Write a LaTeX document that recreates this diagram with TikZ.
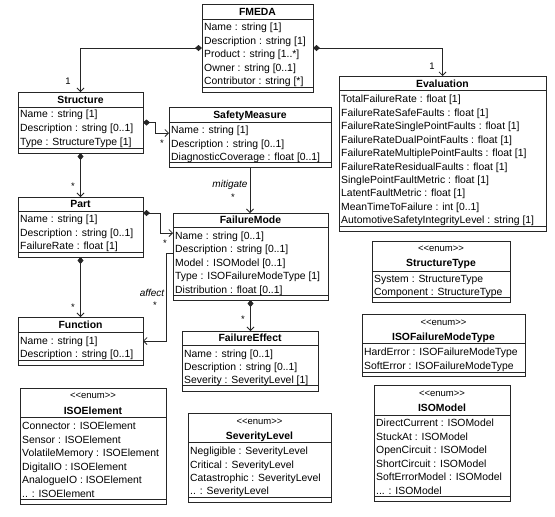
\documentclass[tikz,border=0pt]{standalone}
\usepackage{fontspec}
\setmainfont{Liberation Sans}
\usetikzlibrary{arrows.meta,fit}
\newcommand\umlbox[7]{%
  \node[box, fit={(#2,#3) (#4,#5)}] (#1) {};
  \draw[sep] (#2,#6) -- (#4,#6) (#2,#7) -- (#4,#7);
}
\newcommand\umlrows[5]{%
  \foreach \rowtext [count=\i] in {#5} {\node[attr] (#1-r\i) at (#2,{#3+#4*(\i-1)}) {\rowtext};}
}
\newcommand\enumtag{<\kern0pt<enum>\kern0pt>}
\begin{document}
\begin{tikzpicture}[x=1pt,y=-1pt,
  box/.style={draw=black!85, line width=0.8pt, inner sep=0pt, outer sep=0pt},
  sep/.style={draw=black!85, line width=0.8pt},
  attr/.style={anchor=west, inner sep=0pt, text height=7.5pt, text depth=0pt, font=\fontsize{10.4}{12}\selectfont},
  ttl/.style={inner sep=0pt, text height=7.5pt, text depth=0pt, font=\fontsize{10.4}{12}\selectfont\bfseries},
  stereo/.style={inner sep=0pt, font=\fontsize{9.5}{11}\selectfont},
  lbl/.style={inner sep=0pt, font=\fontsize{10}{12}\selectfont\itshape},
  mult/.style={inner sep=0pt, font=\fontsize{9.5}{11}\selectfont},
  comp/.style={draw=black!85, line width=0.8pt, {Diamond[length=7pt,width=6pt]}-{Straight Barb[length=3.5pt,width=7pt]}},
  assoc/.style={draw=black!85, line width=0.8pt, -{Straight Barb[length=3.5pt,width=7pt]}},
]
\useasboundingbox[fill=white] (0,0) rectangle (555,517);

% FMEDA
\umlbox{fmeda}{202}{4}{313}{92}{19}{87}
\node[ttl] (fmeda-t) at (257.5,12) {FMEDA};
\umlrows{fmeda}{204}{26.7}{13.55}{Name : string [1], Description : string [1], Product : string [1..*], Owner : string [0..1], Contributor : string [*]}

% Structure
\umlbox{structure}{18}{92}{143}{153}{107}{148}
\node[ttl] (structure-t) at (80.5,100) {Structure};
\umlrows{structure}{20}{114}{13.7}{Name : string [1], Description : string [0..1], Type : StructureType [1]}

% SafetyMeasure
\umlbox{safety}{169}{107}{331}{167}{122}{162}
\node[ttl] (safety-t) at (250,114.5) {SafetyMeasure};
\umlrows{safety}{171}{130}{13.5}{Name : string [1], Description : string [0..1], DiagnosticCoverage : float [0..1]}

% Part
\umlbox{part}{18}{197}{143}{257}{211}{252}
\node[ttl] (part-t) at (80.5,204) {Part};
\umlrows{part}{20}{219}{13.5}{Name : string [1], Description : string [0..1], FailureRate : float [1]}

% FailureMode
\umlbox{failmode}{173}{213}{328}{300}{227}{295}
\node[ttl] (failmode-t) at (250.5,220) {FailureMode};
\umlrows{failmode}{175}{235.3}{13.5}{Name : string [0..1], Description : string [0..1], Model : ISOModel [0..1], Type : ISOFailureModeType [1], Distribution : float [0..1]}

% Function
\umlbox{function}{18}{317}{143}{365}{332}{360}
\node[ttl] (function-t) at (80.5,325) {Function};
\umlrows{function}{20}{340.5}{13.2}{Name : string [1], Description : string [0..1]}

% FailureEffect
\umlbox{feffect}{182}{331}{318}{391}{345}{385}
\node[ttl] (feffect-t) at (250,338) {FailureEffect};
\umlrows{feffect}{184}{353.3}{13.4}{Name : string [0..1], Description : string [0..1], Severity : SeverityLevel [1]}

% Evaluation
\umlbox{evaluation}{339}{76}{546}{231}{90}{226.5}
\node[ttl] (evaluation-t) at (442.5,83.5) {Evaluation};
\umlrows{evaluation}{341}{99}{13.45}{TotalFailureRate : float [1], FailureRateSafeFaults : float [1], FailureRateSinglePointFaults : float [1], FailureRateDualPointFaults : float [1], FailureRateMultiplePointFaults : float [1], FailureRateResidualFaults : float [1], SinglePointFaultMetric : float [1], LatentFaultMetric : float [1], MeanTimeToFailure : int [0..1], AutomotiveSafetyIntegrityLevel : string [1]}

% StructureType
\umlbox{structtype}{372}{241}{510}{302}{271}{297}
\node[stereo] (structtype-s) at (441,248.5) {\enumtag};
\node[ttl] (structtype-t) at (441,263) {StructureType};
\umlrows{structtype}{374}{278.5}{13.4}{System : StructureType, Component : StructureType}

% ISOFailureModeType
\umlbox{fmtype}{362}{314}{525}{376}{343}{372}
\node[stereo] (fmtype-s) at (443.5,323) {\enumtag};
\node[ttl] (fmtype-t) at (443.5,337) {ISOFailureModeType};
\umlrows{fmtype}{364}{352}{13.4}{HardError : ISOFailureModeType, SoftError : ISOFailureModeType}

% ISOElement
\umlbox{isoelem}{20}{388}{166}{504}{417}{499}
\node[stereo] (isoelem-s) at (93,396) {\enumtag};
\node[ttl] (isoelem-t) at (93,411) {ISOElement};
\umlrows{isoelem}{22}{426}{13.45}{Connector : ISOElement, Sensor : ISOElement, VolatileMemory : ISOElement, DigitalIO : ISOElement, AnalogueIO : ISOElement, {{..} : ISOElement}}

% SeverityLevel
\umlbox{sevlevel}{188}{413}{331}{502}{442}{497}
\node[stereo] (sevlevel-s) at (259.5,422) {\enumtag};
\node[ttl] (sevlevel-t) at (259.5,436) {SeverityLevel};
\umlrows{sevlevel}{190}{451}{13.4}{Negligible : SeverityLevel, Critical : SeverityLevel, Catastrophic : SeverityLevel, {{..} : SeverityLevel}}

% ISOModel
\umlbox{isomodel}{374}{385}{510}{501}{415}{496}
\node[stereo] (isomodel-s) at (442,394) {\enumtag};
\node[ttl] (isomodel-t) at (442,408) {ISOModel};
\umlrows{isomodel}{376}{423}{13.45}{DirectCurrent : ISOModel, StuckAt : ISOModel, OpenCircuit : ISOModel, ShortCircuit : ISOModel, SoftErrorModel : ISOModel, {{...} : ISOModel}}

% connectors
\draw[comp] (fmeda.west) -| (structure.north);
\draw[comp] (fmeda.east) -| (evaluation.north);
\draw[comp] (structure.east) -- ++(12,0) |- (safety.west |- 0,133);
\draw[comp] (structure.south) -- (part.north);
\draw[comp] (part.east |- 0,213) -- ++(17,0) |- (failmode.west |- 0,233);
\draw[comp] (part.south) -- (function.north);
\draw[assoc] (safety.south) -- (safety.south |- failmode.north);
\draw[assoc] (failmode.west |- 0,253) -- ++(-7,0) |- (function.east);
\draw[comp] (failmode.south) -- (failmode.south |- feffect.north);

% labels
\node[mult] (m1) at (68,81) {1};
\node[mult] (m2) at (432,66) {1};
\node[mult] (m3) at (162,143) {*};
\node[mult] (m4) at (73,186) {*};
\node[lbl] (mit) at (230,185) {mitigate};
\node[mult] (m5) at (233,197) {*};
\node[mult] (m6) at (165,243) {*};
\node[lbl] (aff) at (152,293) {affect};
\node[mult] (m7) at (155,305) {*};
\node[mult] (m8) at (73,307) {*};
\node[mult] (m9) at (243,319) {*};
\end{tikzpicture}
\end{document}
